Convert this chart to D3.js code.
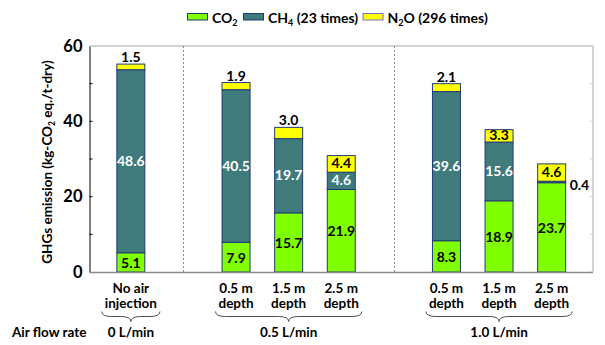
<!DOCTYPE html>
<html>
<head>
<meta charset="utf-8">
<script src="https://cdn.jsdelivr.net/npm/d3@7"></script>
<style>
  html, body { margin: 0; padding: 0; background: #fff; }
  svg { display: block; font-family: Lato, "Open Sans", sans-serif; font-weight: bold; }
</style>
</head>
<body>
<svg id="chart" width="605" height="345"></svg>
<script>
// Bar keys (with spacer slots between air-flow groups)
const slots = ["noair", "gap1", "a05", "a15", "a25", "gap2", "b05", "b15", "b25"];
const barKeys = ["noair", "a05", "a15", "a25", "b05", "b15", "b25"];
const barLabels = [["No air", "injection"], ["0.5 m", "depth"], ["1.5 m", "depth"], ["2.5 m", "depth"],
                   ["0.5 m", "depth"], ["1.5 m", "depth"], ["2.5 m", "depth"]];
const groupNames = ["0 L/min", "0.5 L/min", "1.0 L/min"];
const groupMembers = [["noair"], ["a05", "a15", "a25"], ["b05", "b15", "b25"]];

// Emissions, kg-CO2 eq./t-dry
const co2 = [5.1, 7.9, 15.7, 21.9, 8.3, 18.9, 23.7];
const ch4 = [48.6, 40.5, 19.7, 4.6, 39.6, 15.6, 0.4];
const n2o = [1.5, 1.9, 3.0, 4.4, 2.1, 3.3, 4.6];

const yTicks = [0, 20, 40, 60];
const yMinorTicks = [10, 30, 50];

const seriesKeys = ["co2", "ch4", "n2o"];
const colors = { co2: "#80ff00", ch4: "#3f7b7b", n2o: "#ffff00" };

const svg = d3.select("#chart");
const plotL = 89.5, plotR = 593, plotT = 46, plotB = 272;

const x = d3.scaleBand().domain(slots).range([plotL, plotR]).paddingInner(0.468).paddingOuter(0.52);
const y = d3.scaleLinear().domain([0, 60]).range([plotB, plotT]);

const rows = barKeys.map((k, i) => ({ key: k, co2: co2[i], ch4: ch4[i], n2o: n2o[i] }));
const stacked = d3.stack().keys(seriesKeys)(rows);

// Plot frame (top / right in light grey)
svg.append("path")
  .attr("d", `M${plotL},${plotT}H${plotR}V${plotB}`)
  .attr("fill", "none").attr("stroke", "#a6a6a6").attr("stroke-width", 1);

// Faint inward ticks on the right border
svg.append("g").selectAll("line").data(yTicks.concat(yMinorTicks)).join("line")
  .attr("x1", plotR - 3).attr("x2", plotR)
  .attr("y1", d => y(d)).attr("y2", d => y(d))
  .attr("stroke", "#d0d0d0");

// Group separators
["gap1", "gap2"].forEach(g => {
  const gx = Math.round(x(g) + x.bandwidth() / 2) + 0.5;
  svg.append("line")
    .attr("x1", gx).attr("x2", gx).attr("y1", plotT).attr("y2", plotB)
    .attr("stroke", "#8c8c8c").attr("stroke-width", 1).attr("stroke-dasharray", "2,2");
});

// Bars
const layers = svg.append("g").selectAll("g").data(stacked).join("g")
  .attr("fill", d => colors[d.key]);
layers.selectAll("rect").data(d => d).join("rect")
  .attr("x", d => x(d.data.key))
  .attr("width", x.bandwidth())
  .attr("y", d => y(d[1]))
  .attr("height", d => y(d[0]) - y(d[1]))
  .attr("stroke", "#1f3a78").attr("stroke-width", 1);

// Y axis
const yAxis = d3.axisLeft(y).tickValues(yTicks).tickSize(0).tickPadding(7);
const gy = svg.append("g").attr("transform", `translate(${plotL},0)`).call(yAxis);
gy.select(".domain").attr("stroke", "#000");
gy.selectAll("text").attr("font-size", 16.5).attr("font-weight", "bold")
  .attr("font-family", "Lato, sans-serif").attr("fill", "#000");
svg.append("g").selectAll("line").data(yTicks.slice(1, 3).concat(yMinorTicks)).join("line")
  .attr("x1", plotL).attr("x2", plotL + 3)
  .attr("y1", d => y(d)).attr("y2", d => y(d))
  .attr("stroke", "#000");

// Baseline
svg.append("line").attr("x1", plotL).attr("x2", plotR).attr("y1", plotB + 0.5).attr("y2", plotB + 0.5)
  .attr("stroke", "#8c8c8c").attr("stroke-width", 1.5);

// Y axis title
const yt = svg.append("text")
  .attr("transform", `translate(52,${(plotT + plotB) / 2 + 3}) rotate(-90)`)
  .attr("text-anchor", "middle").attr("font-size", 13.5).attr("fill", "#000");
yt.append("tspan").text("GHGs emission (kg-CO");
yt.append("tspan").text("2").attr("font-size", 8.5).attr("dy", 3);
yt.append("tspan").text(" eq./t-dry)").attr("dy", -3);

// Value labels
const labels = svg.append("g").attr("font-size", 14).attr("text-anchor", "middle");
const cx = k => x(k) + x.bandwidth() / 2;

rows.forEach(r => {
  const c = cx(r.key);
  // CO2
  labels.append("text").attr("x", c).attr("y", (y(0) + y(r.co2)) / 2 + 2)
    .attr("dominant-baseline", "middle").attr("fill", "#000").text(r.co2.toFixed(1));
  // CH4
  const ch4Top = y(r.co2 + r.ch4), ch4Bot = y(r.co2);
  if (ch4Bot - ch4Top > 12) {
    labels.append("text").attr("x", c).attr("y", (ch4Top + ch4Bot) / 2 + 1)
      .attr("dominant-baseline", "middle").attr("fill", "#fff").text(r.ch4.toFixed(1));
  } else {
    labels.append("text").attr("x", x(r.key) + x.bandwidth() + 4).attr("y", ch4Bot + 4)
      .attr("text-anchor", "start").attr("dominant-baseline", "middle").attr("fill", "#000")
      .text(r.ch4.toFixed(1));
  }
  // N2O
  const nTop = y(r.co2 + r.ch4 + r.n2o), nBot = ch4Top;
  if (nBot - nTop > 12) {
    labels.append("text").attr("x", c).attr("y", (nTop + nBot) / 2 + 1)
      .attr("dominant-baseline", "middle").attr("fill", "#000").text(r.n2o.toFixed(1));
  } else {
    labels.append("text").attr("x", c).attr("y", nTop - 2)
      .attr("fill", "#000").text(r.n2o.toFixed(1));
  }
});

// Category labels
const catG = svg.append("g").attr("font-size", 13.5).attr("text-anchor", "middle").attr("fill", "#000");
const catBoxes = {};
barKeys.forEach((k, i) => {
  const t = catG.append("text").attr("x", cx(k)).attr("y", 293);
  barLabels[i].forEach((line, j) => {
    t.append("tspan").attr("x", cx(k)).attr("dy", j === 0 ? 0 : 14.5).text(line);
  });
  catBoxes[k] = t.node().getBBox();
});

// Braces under each group
function bracePath(x1, x2, y0, h) {
  const xm = (x1 + x2) / 2, ym = y0 + h / 2, q = Math.min(10, (x2 - x1) / 4);
  return `M${x1},${y0}Q${x1},${ym} ${x1 + q},${ym}L${xm - q},${ym}Q${xm},${ym} ${xm},${y0 + h}` +
         `Q${xm},${ym} ${xm + q},${ym}L${x2 - q},${ym}Q${x2},${ym} ${x2},${y0}`;
}
groupMembers.forEach((members, gi) => {
  const x1 = d3.min(members, k => catBoxes[k].x) - 3;
  const x2 = d3.max(members, k => catBoxes[k].x + catBoxes[k].width) + 3;
  svg.append("path").attr("d", bracePath(x1, x2, 311.5, 10))
    .attr("fill", "none").attr("stroke", "#3a3a3a").attr("stroke-width", 0.9);
  svg.append("text").attr("x", (x1 + x2) / 2).attr("y", 337)
    .attr("text-anchor", "middle").attr("font-size", 13.5).attr("fill", "#000")
    .text(groupNames[gi]);
});
svg.append("text").attr("x", 12).attr("y", 337).attr("font-size", 13.5).attr("fill", "#000")
  .text("Air flow rate");

// Legend
const legendItems = [
  { key: "co2", parts: [["CO", 0], ["2", 1]], x: 187.5 },
  { key: "ch4", parts: [["CH", 0], ["4", 1], [" (23 times)", 0]], x: 243.5 },
  { key: "n2o", parts: [["N", 0], ["2", 1], ["O (296 times)", 0]], x: 363 }
];
const lg = svg.append("g");
legendItems.forEach(it => {
  lg.append("rect").attr("x", it.x).attr("y", 13.5).attr("width", 20).attr("height", 6.5)
    .attr("fill", colors[it.key]).attr("stroke", it.key === "n2o" ? "#7c6fd0" : "#1f3a78").attr("stroke-width", 1);
  const t = lg.append("text").attr("x", it.x + 24.5).attr("y", 22.5).attr("font-size", 14).attr("fill", "#000");
  let sub = false;
  it.parts.forEach(([s, isSub]) => {
    const ts = t.append("tspan").text(s);
    if (isSub && !sub) { ts.attr("font-size", 9).attr("dy", 3); sub = true; }
    else if (!isSub && sub) { ts.attr("dy", -3); sub = false; }
  });
});
</script>
</body>
</html>
